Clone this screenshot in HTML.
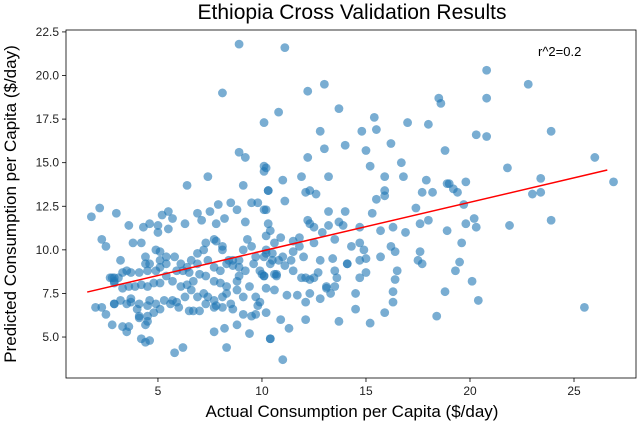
<!DOCTYPE html>
<html><head><meta charset="utf-8"><style>
html,body{margin:0;padding:0;background:#fff;}
svg{display:block;font-family:"Liberation Sans","DejaVu Sans",sans-serif;}
</style></head><body>
<svg id="chart" width="640" height="422">
<text x="352" y="19" text-anchor="middle" font-size="21" fill="#000">Ethiopia Cross Validation Results</text>
<text x="352" y="417" text-anchor="middle" font-size="17" fill="#000">Actual Consumption per Capita ($/day)</text>
<text transform="translate(16,204) rotate(-90)" text-anchor="middle" font-size="17" fill="#000">Predicted Consumption per Capita ($/day)</text>
<g id="plot"></g>
</svg>
<script>
const xTicks = [5, 10, 15, 20, 25];
const yTicks = [5.0, 7.5, 10.0, 12.5, 15.0, 17.5, 20.0, 22.5];
const actualX = [11.1,20.8,22.8,12.2,13.0,18.5,18.6,20.8,13.7,10.8,10.1,12.8,15.4,15.5,14.8,17.0,18.0,20.3,20.8,23.9,13.0,14.0,16.2,15.0,18.8,12.2,10.1,10.1,15.2,16.7,21.8,26.0,11.9,13.2,11.0,15.9,16.8,17.9,18.9,19.0,19.8,23.4,26.9,10.3,12.1,12.3,12.6,15.9,15.9,17.7,18.2,19.2,19.4,23.0,23.4,11.1,15.5,10.1,13.2,14.0,15.3,17.4,19.7,12.2,12.3,12.5,13.2,13.7,13.9,14.7,15.7,16.3,16.9,17.6,18.0,18.9,19.8,20.2,20.3,21.9,23.9,10.9,11.5,11.8,12.5,12.9,13.5,14.3,14.7,14.9,16.2,16.4,17.6,19.6,10.2,11.0,11.4,12.0,12.8,13.4,14.1,14.7,15.0,15.7,17.5,17.7,19.5,10.5,11.1,11.5,10.1,10.7,11.9,12.3,12.7,13.5,13.6,14.1,14.7,15.0,16.5,16.4,19.3,10.2,10.6,11.2,11.7,12.1,12.3,12.8,13.1,13.5,13.3,14.5,16.3,16.3,18.8,20.1,20.4,14.5,12.1,13.7,15.2,15.9,18.4,25.5,10.9,11.3,10.4,11.0,
1.8,2.2,3.0,3.6,2.3,2.5,3.8,4.2,4.3,4.6,5.0,5.2,5.5,5.7,5.5,5.0,6.3,6.4,7.4,6.9,7.1,7.5,7.9,8.5,8.8,8.2,7.8,9.2,9.5,9.8,10.2,9.1,10.3,10.2,8.9,9.2,3.2,2.8,2.9,2.0,2.3,2.5,2.9,2.8,3.3,3.6,3.5,4.2,4.6,4.4,5.8,6.2,8.3,7.7,8.2,8.8,9.4,10.4,4.1,4.5,4.4,
2.9,3.1,3.3,3.5,3.7,4.1,4.5,4.9,5.1,4.9,5.1,5.4,5.8,6.1,6.4,6.6,6.9,7.2,7.3,7.7,7.8,8.1,8.1,8.4,8.6,8.9,9.1,9.3,9.5,9.7,10.1,10.2,10.5,10.8,10.0,10.1,10.7,8.9,8.8,8.3,8.0,7.7,7.3,7.0,6.7,6.4,6.1,5.7,5.4,5.1,4.8,4.5,4.2,3.9,3.6,3.3,2.9,2.7,3.5,3.7,4.1,4.6,4.9,5.3,5.6,5.9,6.3,6.6,6.9,7.2,7.4,7.7,7.8,8.1,8.3,8.5,8.8,9.1,9.4,9.7,9.8,9.9,10.2,9.7,9.5,9.1,8.6,8.1,7.7,7.3,7.0,6.7,6.5,6.0,5.7,5.1,4.8,4.5,4.0,4.1,4.5,3.7,3.2,2.9,4.4,4.4,4.6,5.1,5.4,5.9,6.2,6.5,6.9,7.4,7.7,8.0,8.3,8.6,8.9,9.2,9.6,9.9,10.4,10.6,
8.1,8.9,10.3,10.4,10.2,10.6,11.8,11.5,12.1,12.5,13.1];
const predictedY = [21.6,20.3,19.5,19.1,19.5,18.7,18.4,18.7,18.1,17.9,17.3,16.8,17.6,16.9,16.8,17.3,17.2,16.6,16.5,16.8,15.8,16.0,16.1,15.7,15.7,15.3,14.8,14.5,14.8,15.0,14.7,15.3,14.2,14.2,14.0,14.2,14.2,14.0,13.8,13.8,13.9,14.1,13.9,13.4,13.3,13.4,13.2,13.4,13.1,13.3,13.3,13.5,13.3,13.2,13.3,12.8,12.9,12.3,12.2,12.2,12.1,12.4,12.6,11.7,11.5,11.3,11.4,11.6,11.4,11.3,11.1,11.3,11.0,11.5,11.7,11.1,11.5,11.8,11.3,11.4,11.7,10.7,10.5,10.7,10.4,11.0,10.6,10.2,10.4,10.0,10.2,9.9,9.9,10.4,9.8,9.6,9.4,9.6,9.4,9.5,9.2,9.4,9.5,9.6,9.4,9.2,9.3,9.4,9.1,8.8,8.5,8.5,8.4,8.3,8.7,8.8,8.4,9.2,8.4,8.7,8.8,8.3,8.8,7.8,7.7,7.4,7.4,7.0,7.5,7.2,7.9,7.9,7.5,7.5,7.6,7.0,7.6,8.2,7.1,6.6,6.0,5.9,5.8,6.4,6.2,6.7,6.0,5.5,4.9,3.7,
11.9,12.4,12.1,11.4,10.6,10.2,10.4,10.4,11.3,11.5,11.4,12.0,12.2,11.8,11.2,11.0,11.5,13.7,14.2,12.1,11.7,12.2,12.6,12.7,12.3,11.8,11.5,11.6,12.7,12.7,12.3,13.7,13.4,14.7,15.6,15.3,9.4,8.4,8.2,6.7,6.7,6.3,6.9,5.7,5.6,5.6,5.3,4.9,4.8,4.7,4.1,4.4,4.4,5.3,5.5,5.7,5.2,4.9,6.1,5.9,5.7,
8.4,8.4,8.7,8.8,8.7,8.7,8.8,8.8,9.0,10.0,9.9,9.6,9.6,9.2,9.0,9.4,9.8,10.0,10.4,10.6,10.5,10.2,10.0,9.4,9.1,9.4,10.0,10.6,10.2,9.6,9.6,10.0,9.8,9.4,8.6,8.5,8.6,8.5,8.2,7.9,8.1,8.2,8.5,8.6,8.2,8.0,7.9,8.2,8.5,8.1,8.1,7.9,8.0,7.9,7.9,7.8,8.1,8.4,6.9,7.0,6.9,7.1,6.9,7.1,6.9,7.0,7.3,7.7,7.3,7.5,7.3,7.1,6.8,7.3,7.5,6.9,7.7,7.3,7.9,7.3,6.8,7.0,6.4,6.3,6.2,6.3,6.6,6.7,6.7,6.9,6.5,6.5,6.5,6.7,7.1,6.6,6.4,6.8,6.6,6.2,6.2,7.2,7.1,6.9,9.6,9.2,9.2,9.4,9.2,8.8,8.8,8.7,9.2,9.4,9.0,8.8,9.2,9.4,9.0,8.8,9.2,8.8,9.2,8.6,
19.0,21.8,11.5,11.1,10.8,10.4,10.2,9.9,8.4,8.4,7.8];
const fitSlope = 0.28;
const fitIntercept = 7.13;
const fitRange = [1.6, 26.6];

const NS = "http://www.w3.org/2000/svg";
const L = 66, R = 636, T = 30, B = 378;
const xMin = 0.58, xMax = 27.98, yMin = 2.65, yMax = 22.61;
function sx(v){ return L + (v - xMin) / (xMax - xMin) * (R - L); }
function sy(v){ return B - (v - yMin) / (yMax - yMin) * (B - T); }
const g = document.getElementById('plot');
function mk(tag, attrs){ const e = document.createElementNS(NS, tag); for (const k in attrs) e.setAttribute(k, attrs[k]); g.appendChild(e); return e; }

const pts = mk('g', {});


for (let i = 0; i < Math.min(actualX.length, predictedY.length); i++) {
  const c = document.createElementNS(NS, 'circle');
  c.setAttribute('cx', sx(actualX[i]));
  c.setAttribute('cy', sy(predictedY[i]));
  c.setAttribute('r', 4.4);
  c.setAttribute('fill', '#1f77b4');
  c.setAttribute('fill-opacity', '0.6');
  
  
  pts.appendChild(c);
}

const line = mk('line', {x1: sx(fitRange[0]), y1: sy(fitIntercept + fitSlope * fitRange[0]), x2: sx(fitRange[1]), y2: sy(fitIntercept + fitSlope * fitRange[1]), stroke: '#ff0000', 'stroke-width': 1.5});



const frame = mk('rect', {x: L, y: T, width: R - L, height: B - T, fill: 'none', stroke: '#000', 'stroke-width': 0.8});



xTicks.forEach(v => {
  const x = sx(v);
  const t = mk('line', {x1: x, y1: B, x2: x, y2: B + 4, stroke: '#000', 'stroke-width': 0.8});
  
  
  const lb = mk('text', {x: x, y: B + 17, 'text-anchor': 'middle', 'font-size': 12, fill: '#222'});
  lb.textContent = String(v);
  
  
});
yTicks.forEach(v => {
  const y = sy(v);
  const t = mk('line', {x1: L - 4, y1: y, x2: L, y2: y, stroke: '#000', 'stroke-width': 0.8});
  
  
  const lb = mk('text', {x: L - 7, y: y + 4, 'text-anchor': 'end', 'font-size': 12, fill: '#222'});
  lb.textContent = v.toFixed(1);
  
  
});
const ann = mk('text', {x: 538, y: 56, 'font-size': 13, fill: '#000'});
ann.textContent = 'r^2=0.2';


</script>
</body></html>
